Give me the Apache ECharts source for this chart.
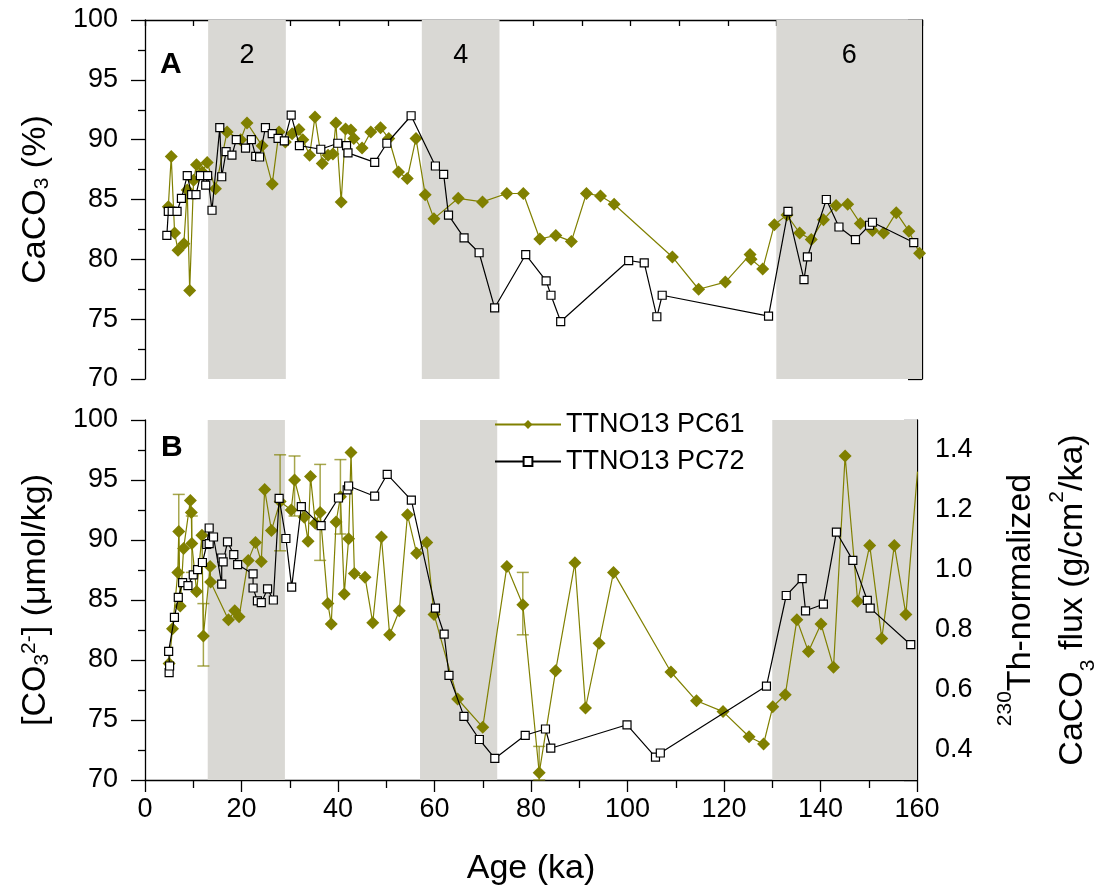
<!DOCTYPE html>
<html><head><meta charset="utf-8">
<script src="https://cdn.jsdelivr.net/npm/echarts@6/dist/echarts.min.js"></script>
<style>html,body{margin:0;padding:0;background:#fff}#c{width:1107px;height:896px}</style>
</head><body><div id="c"></div>
<script>
// ---- Data ----
// Panel A: CaCO3 (%)
const pc61A_age = [4.8,5.4,6.1,6.8,8.0,8.7,9.2,10.0,10.6,11.8,12.8,14.5,16.9,19.7,21.0,24.1,26.2,27.6,28.9,30.3,31.7,32.5,33.9,35.0,36.5,37.7,38.7,39.3,40.4,41.3,42.4,43.0,44.7,46.5,48.5,50.2,52.2,54.0,55.8,57.7,59.5,64.5,69.5,74.5,77.9,81.3,84.6,87.8,90.9,93.8,96.6,108.6,114.0,119.5,124.6,124.8,127.2,129.6,132.2,134.8,137.2,139.7,142.3,144.7,147.3,149.8,152.1,154.7,157.3,159.5];
const pc61A_caco3 = [84.4,88.6,82.2,80.75,81.3,85.8,77.4,86.6,87.9,87.3,88.1,85.9,90.65,90.0,91.4,89.5,86.3,90.65,89.8,90.5,90.85,90.0,88.7,91.9,88.0,88.7,88.8,91.4,84.8,90.9,90.8,90.1,89.3,90.65,91.0,90.1,87.3,86.75,90.1,85.4,83.4,85.1,84.8,85.5,85.5,81.7,82.0,81.5,85.5,85.3,84.6,80.2,77.5,78.1,80.4,80.0,79.2,82.9,83.7,82.2,81.65,83.3,84.5,84.6,83.0,82.4,82.2,83.9,82.35,80.5];
const pc72A_age = [4.5,4.8,5.6,6.6,7.5,8.7,9.6,10.5,11.4,12.5,12.9,13.8,15.4,15.8,16.7,17.9,18.8,20.7,21.9,22.8,23.6,24.8,26.2,27.4,28.7,30.1,31.8,36.2,39.7,41.5,41.8,47.3,49.8,54.8,59.8,61.5,62.5,65.7,68.8,72.0,78.4,82.6,83.6,85.6,99.6,102.8,105.4,106.5,128.4,132.4,135.7,136.4,140.3,142.9,146.3,149.2,149.8,158.3];
const pc72A_caco3 = [82.0,84.0,84.0,84.0,85.1,87.0,85.4,85.4,87.0,86.2,87.0,84.1,91.0,86.9,89.0,88.7,90.0,89.3,90.0,88.6,88.55,91.0,90.5,90.1,89.9,92.05,89.5,89.2,89.7,89.5,88.9,88.1,89.7,92.0,87.8,87.1,83.7,81.8,80.55,75.95,80.4,78.2,77.0,74.8,79.9,79.7,75.2,77.0,75.25,84.0,78.3,80.2,85.0,82.7,81.65,82.85,83.1,81.4];
// Panel B: [CO3 2-] (µmol/kg) for PC61, CaCO3 flux for PC72
const pc61B_age = [5.0,5.7,6.8,7.0,7.3,8.0,9.4,9.6,9.7,10.7,11.8,12.1,13.5,13.6,17.3,18.6,19.5,21.4,22.9,24.1,24.8,26.2,28.0,30.3,31.0,33.0,33.8,34.3,35.3,36.3,37.9,38.6,39.6,40.5,41.3,42.2,42.7,43.4,45.6,47.2,49.0,50.7,52.7,54.4,56.3,58.4,59.9,64.8,70.0,75.0,78.3,81.7,85.1,89.1,91.3,94.1,97.1,109.0,114.3,119.8,125.2,128.2,130.1,132.7,135.1,137.5,140.1,142.7,145.1,147.7,150.2,152.7,155.3,157.7,160.1];
const pc61B_co3 = [79.7,82.6,87.3,90.7,84.5,89.3,93.3,92.3,89.7,85.7,90.4,82.0,87.8,86.5,83.35,84.1,83.6,88.3,89.8,88.2,94.2,90.8,93.2,92.5,95.0,91.9,89.9,95.3,91.4,92.3,84.7,83.0,91.5,93.6,85.5,90.1,97.3,87.2,86.9,83.1,90.25,82.1,84.1,92.1,88.9,89.8,83.8,76.75,74.4,87.8,84.6,70.6,79.1,88.1,76.0,81.4,87.3,79.0,76.6,75.7,73.6,73.0,76.1,77.1,83.35,80.7,83.0,79.4,97.0,84.9,89.55,81.8,89.55,83.8,95.7];
const pc61B_errAge = [7.0,9.7,12.1,28.0,31.0,36.3,40.5,78.3,81.7];
const pc61B_errLow = [87.3,87.3,79.5,89.1,92.0,88.3,90.5,82.1,70.0];
const pc61B_errHigh = [93.8,92.0,84.7,97.1,97.0,96.3,96.7,87.3,72.8];
const pc72B_age = [5.0,5.1,4.9,6.1,6.9,7.8,8.9,10.0,10.9,11.9,12.8,13.3,13.3,14.2,15.9,15.9,16.2,17.1,18.4,19.2,22.4,22.4,23.3,24.1,25.4,26.6,27.8,29.2,30.4,32.4,36.5,40.1,41.9,42.2,47.6,50.2,55.2,60.2,62.0,63.0,66.1,69.3,72.5,78.8,83.0,84.1,99.9,105.8,106.8,128.8,132.9,136.2,136.9,140.6,143.3,146.7,149.7,150.3,158.7];
const pc72B_flux = [0.658,0.680,0.729,0.842,0.909,0.958,0.948,0.984,1.001,1.025,1.085,1.140,1.088,1.110,0.953,1.040,1.027,1.094,1.051,1.018,0.987,0.940,0.897,0.891,0.937,0.900,1.239,1.105,0.943,1.211,1.148,1.240,1.267,1.280,1.246,1.319,1.233,0.873,0.786,0.649,0.512,0.435,0.372,0.449,0.470,0.406,0.484,0.376,0.390,0.613,0.915,0.971,0.864,0.886,1.126,1.032,0.899,0.873,0.751];
// Marine isotope stages (shaded)
const misLabels = ['2','4','6'];
const misStart = [13,57,130];
const misEnd = [29,73,160];
const xTicks = [0,20,40,60,80,100,120,140,160];

const FONT = '"Liberation Sans", Arial, Helvetica, sans-serif';
const OLIVE = '#808000';
const SHADE = '#d9d8d4';
const zip = (a,b)=>a.map((v,i)=>[v,b[i]]);

const rich = {
  sub:{fontSize:21,fontFamily:FONT,color:'#000',verticalAlign:'bottom',padding:[10,0,0,0]},
  sup:{fontSize:21,fontFamily:FONT,color:'#000',verticalAlign:'top',padding:[0,0,10,0]}
};

const chart = echarts.init(document.getElementById('c'),null,{renderer:'canvas'});

function leftY(grid, name){
  return {type:'value',gridIndex:grid,position:'left',min:70,max:100,interval:5,
    axisLine:{show:true,lineStyle:{color:'#000',width:1.3}},
    axisTick:{show:true,inside:false,length:14,lineStyle:{color:'#000',width:1.3}},
    minorTick:{show:true,splitNumber:2,length:7,lineStyle:{color:'#000',width:1.3}},
    splitLine:{show:false},
    axisLabel:{fontSize:27,fontFamily:FONT,color:'#000',margin:27},
    name:name,nameLocation:'middle',nameRotate:90,nameGap:92,
    nameTextStyle:{fontSize:34,fontFamily:FONT,color:'#000',rich:rich}};
}

const markAreaData = misStart.map((s,i)=>[{xAxis:s,name:misLabels[i]},{xAxis:misEnd[i]}]);

const option = {
  animation:false,
  backgroundColor:'#fff',
  grid:[
    {left:145,top:20,width:777,height:359,containLabel:false},
    {left:145,top:420,width:777,height:360,containLabel:false}
  ],
  legend:{
    data:['TTNO13 PC61','TTNO13 PC72'],orient:'vertical',left:489,top:406,
    itemWidth:66,itemHeight:11,itemGap:10,selectedMode:false,
    textStyle:{fontSize:27,fontFamily:FONT,color:'#000'}
  },
  xAxis:[
    {type:'value',gridIndex:0,position:'top',min:0,max:160,interval:10,
     axisLine:{show:true,lineStyle:{color:'#000',width:1.3}},
     axisTick:{show:true,inside:true,length:6,lineStyle:{color:'#000',width:1.3}},
     axisLabel:{show:false},splitLine:{show:false}},
    {type:'value',gridIndex:1,position:'bottom',min:0,max:160,interval:20,
     axisLine:{show:true,lineStyle:{color:'#000',width:1.3}},
     axisTick:{show:true,inside:false,length:12,lineStyle:{color:'#000',width:1.3}},
     minorTick:{show:true,splitNumber:2,length:8,lineStyle:{color:'#000',width:1.3}},
     axisLabel:{fontSize:27,fontFamily:FONT,color:'#000',margin:16,
       formatter:v=>xTicks.includes(Math.round(v))?String(Math.round(v)):''},
     splitLine:{show:false},
     name:'Age (ka)',nameLocation:'middle',nameGap:72,
     nameTextStyle:{fontSize:34,fontFamily:FONT,color:'#000'}}
  ],
  yAxis:[
    leftY(0,'CaCO{sub|3} (%)'),
    {type:'value',gridIndex:0,position:'right',min:70,max:100,interval:5,
     axisLine:{show:true,lineStyle:{color:'#000',width:1.3}},
     axisTick:{show:true,inside:true,length:14,lineStyle:{color:'#000',width:1.3}},
     minorTick:{show:true,splitNumber:2,length:7,lineStyle:{color:'#000',width:1.3}},
     axisLabel:{show:false},splitLine:{show:false}},
    leftY(1,'[CO{sub|3}{sup|2-}] (μmol/kg)'),
    {type:'value',gridIndex:1,position:'right',min:0.3,max:1.5,interval:0.1,
     axisLine:{show:true,lineStyle:{color:'#000',width:1.3}},
     axisTick:{show:true,inside:true,length:13,lineStyle:{color:'#000',width:1.3}},
     axisLabel:{fontSize:27,fontFamily:FONT,color:'#000',margin:18,
       formatter:v=>{const k=Math.round(v*10);return (k%2===0&&k>=4&&k<=14)?(k/10).toFixed(1):'';}},
     splitLine:{show:false},
     name:'{sup|230}Th-normalized\nCaCO{sub|3} flux (g/cm{sup|2}/ka)',
     nameLocation:'middle',nameRotate:90,nameGap:78,
     nameTextStyle:{fontSize:34,fontFamily:FONT,color:'#000',lineHeight:52,rich:rich}}
  ],
  graphic:[
    {type:'text',left:160,top:50,style:{text:'A',font:'bold 30px '+FONT,fill:'#000'}},
    {type:'text',left:161,top:433,style:{text:'B',font:'bold 30px '+FONT,fill:'#000'}}
  ],
  series:[
    {name:'TTNO13 PC61',type:'line',xAxisIndex:0,yAxisIndex:0,data:zip(pc61A_age,pc61A_caco3),
     symbol:'diamond',symbolSize:13,showAllSymbol:true,
     lineStyle:{color:OLIVE,width:1.2},itemStyle:{color:OLIVE},z:3,
     markArea:{silent:true,itemStyle:{color:SHADE},
       label:{show:true,position:'insideTop',distance:22,formatter:'{b}',fontSize:27,fontFamily:FONT,color:'#000'},
       data:markAreaData}},
    {name:'TTNO13 PC72',type:'line',xAxisIndex:0,yAxisIndex:0,data:zip(pc72A_age,pc72A_caco3),
     symbol:'rect',symbolSize:8,showAllSymbol:true,
     lineStyle:{color:'#000',width:1.2},itemStyle:{color:'#fff',borderColor:'#000',borderWidth:1.2},z:4},
    {name:'TTNO13 PC61',type:'line',xAxisIndex:1,yAxisIndex:2,data:zip(pc61B_age,pc61B_co3),
     symbol:'diamond',symbolSize:13,showAllSymbol:true,
     lineStyle:{color:OLIVE,width:1.2},itemStyle:{color:OLIVE},z:3,
     markArea:{silent:true,itemStyle:{color:SHADE},label:{show:false},data:markAreaData}},
    {name:'errorbars',type:'custom',xAxisIndex:1,yAxisIndex:2,z:2,
     data:pc61B_errAge.map((a,i)=>[a,pc61B_errLow[i],pc61B_errHigh[i]]),
     encode:{x:0,y:[1,2]},
     renderItem:function(params,api){
       const x=api.value(0),lo=api.value(1),hi=api.value(2);
       const p1=api.coord([x,hi]),p2=api.coord([x,lo]);
       const w=6;const st={stroke:'rgba(128,128,0,0.7)',lineWidth:1.5};
       return {type:'group',children:[
         {type:'line',shape:{x1:p1[0],y1:p1[1],x2:p2[0],y2:p2[1]},style:st},
         {type:'line',shape:{x1:p1[0]-w,y1:p1[1],x2:p1[0]+w,y2:p1[1]},style:st},
         {type:'line',shape:{x1:p2[0]-w,y1:p2[1],x2:p2[0]+w,y2:p2[1]},style:st}
       ]};
     }},
    {name:'TTNO13 PC72',type:'line',xAxisIndex:1,yAxisIndex:3,data:zip(pc72B_age,pc72B_flux),
     symbol:'rect',symbolSize:8,showAllSymbol:true,
     lineStyle:{color:'#000',width:1.2},itemStyle:{color:'#fff',borderColor:'#000',borderWidth:1.2},z:4}
  ]
};
chart.setOption(option);
</script></body></html>
